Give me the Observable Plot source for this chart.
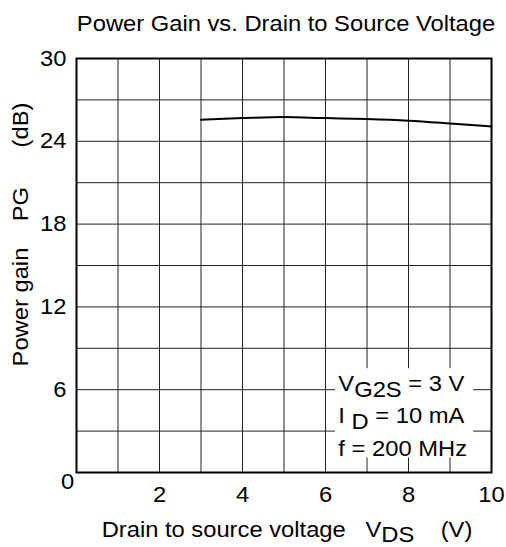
<!DOCTYPE html>
<html>
<head>
<meta charset="utf-8">
<script src="https://cdn.jsdelivr.net/npm/d3@7"></script>
<script src="https://cdn.jsdelivr.net/npm/@observablehq/plot@0.6"></script>
<style>
  html, body { margin: 0; padding: 0; background: #fff; }
  svg text { white-space: pre; }
</style>
</head>
<body>
<div id="chart"></div>
<script>
// Data
const vds = [3, 4, 5, 6, 7, 8, 9, 10];
const gain = [25.56, 25.68, 25.76, 25.68, 25.61, 25.49, 25.29, 25.07];
const xTicks = [2, 4, 6, 8, 10];
const yTicks = [6, 12, 18, 24, 30];
const xGrid = [1, 2, 3, 4, 5, 6, 7, 8, 9];
const yGrid = [3, 6, 9, 12, 15, 18, 21, 24, 27];
const title = "Power Gain vs. Drain to Source Voltage";
const xLabel = "Drain to source voltage   V_{DS}    (V)";
const yLabel = "Power gain    PG      (dB)";
const annotLines = ["V_{G2S} = 3 V", "I _{D} = 10 mA", "f = 200 MHz"];
const annotY = [6.44, 4.08, 1.74];
const annotX = 6.31;
const annotBox = {x1: 6.24, x2: 9.57, y1: 1.05, y2: 7.52};

const data = vds.map((v, i) => ({x: v, y: gain[i]}));
const font = "'Liberation Sans', Arial, Helvetica, sans-serif";

const chart = Plot.plot({
  width: 506,
  height: 547,
  marginLeft: 76,
  marginRight: 15,
  marginTop: 58,
  marginBottom: 75,
  style: {fontFamily: font, fontSize: "22px", background: "#fff", color: "#000"},
  x: {domain: [0, 10]},
  y: {domain: [0, 30]},
  marks: [
    Plot.ruleX(xGrid, {stroke: "#222", strokeWidth: 1}),
    Plot.ruleY(yGrid, {stroke: "#222", strokeWidth: 1}),
    Plot.line(data, {x: "x", y: "y", curve: "monotone-x", stroke: "#000", strokeWidth: 2}),
    Plot.rect([annotBox], {x1: "x1", x2: "x2", y1: "y1", y2: "y2", fill: "#fff"}),
    Plot.text(annotLines, {x: () => annotX, y: (d, i) => annotY[i], text: d => d, textAnchor: "start", fontSize: 22, fill: "#000", className: "rich"}),
    Plot.frame({stroke: "#000", strokeWidth: 2}),
    Plot.axisX(xTicks, {tickSize: 0, tickPadding: 14, fontSize: 22, label: null}),
    Plot.axisY(yTicks, {tickSize: 0, tickPadding: 10, fontSize: 22, label: null}),
    Plot.text([0], {x: 0, y: 0, text: d => String(d), dx: -9, dy: 9, fontSize: 22, fill: "#000", className: "tick0"}),
    Plot.text([title], {frameAnchor: "top", text: d => d, dx: 2, dy: -35, lineAnchor: "middle", textAnchor: "middle", fontSize: 22, fill: "#000"}),
    Plot.text([xLabel], {frameAnchor: "bottom", text: d => d, dx: 3, dy: 57, lineAnchor: "middle", textAnchor: "middle", fontSize: 22, fill: "#000", className: "rich"}),
    Plot.text([yLabel], {frameAnchor: "left", text: d => d, rotate: -90, dx: -56, dy: -31, lineAnchor: "middle", textAnchor: "middle", fontSize: 22, fill: "#000"})
  ]
});

// Render subscripts written as _{...}
d3.select(chart).selectAll("g.rich text").each(function() {
  const t = d3.select(this);
  const raw = t.text();
  const parts = raw.split(/(_\{[^}]*\})/).filter(s => s.length);
  t.text(null);
  let shifted = false;
  parts.forEach(p => {
    const m = p.match(/^_\{([^}]*)\}$/);
    if (m) {
      t.append("tspan").attr("dy", "0.27em").text(m[1]);
      shifted = true;
    } else {
      const ts = t.append("tspan").text(p);
      if (shifted) { ts.attr("dy", "-0.27em"); shifted = false; }
    }
  });
});

document.getElementById("chart").appendChild(chart);

// The reference lettering is slightly wider than Arial: widen glyphs about each text's anchor
d3.select(chart).selectAll("text").each(function() {
  const k = 1.08;
  let tr = this.getAttribute("transform");
  if (!tr) {
    const x = +(this.getAttribute("x") || 0), y = +(this.getAttribute("y") || 0);
    this.removeAttribute("x");
    this.removeAttribute("y");
    tr = `translate(${x},${y})`;
  }
  this.setAttribute("transform", `${tr} scale(${k},1)`);
});
</script>
</body>
</html>
